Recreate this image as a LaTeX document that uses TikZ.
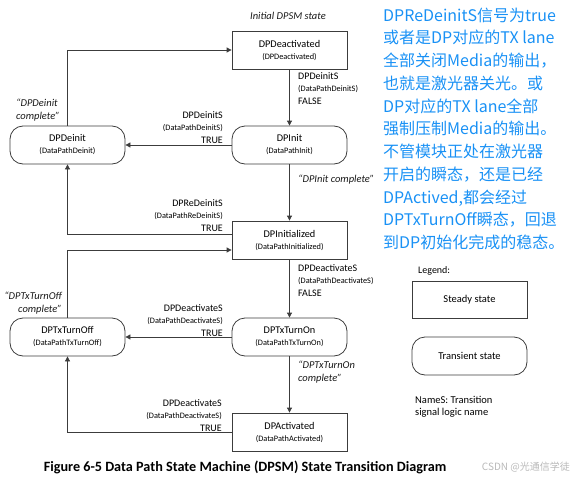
\documentclass[tikz,border=0pt]{standalone}
\usepackage{fontspec}
\setmainfont{Carlito}
\newfontfamily\cjk{Noto Sans CJK SC}
\usetikzlibrary{arrows.meta}
\definecolor{linegray}{RGB}{60,60,60}
\definecolor{noteblue}{RGB}{25,145,245}
\definecolor{wmgray}{RGB}{185,185,185}
\tikzset{
  steadybox/.style={draw=linegray, line width=0.8pt, minimum width=115pt, minimum height=38pt, align=center, inner sep=0pt, font=\fontsize{10.3}{12}\selectfont},
  transbox/.style={steadybox, rounded corners=13pt},
  conn/.style={draw=linegray, line width=0.8pt, -{Triangle[length=5pt,width=5pt]}},
  siglbl/.style={inner sep=0pt, font=\fontsize{10}{12.5}\selectfont},
  cmpl/.style={inner sep=0pt, font=\fontsize{10.5}{13}\selectfont\itshape, text=black!90},
}
\newcommand{\subl}[1]{{\fontsize{8.3}{12.5}\selectfont #1}}
\begin{document}
\begin{tikzpicture}[x=1pt,y=-1pt]
\useasboundingbox (0,0) rectangle (573,479);
% states
\node[steadybox] (deact) at (289.5,50) {DPDeactivated\\\subl{(DPDeactivated)}};
\node[transbox] (init) at (289.5,145) {DPInit\\\subl{(DataPathInit)}};
\node[transbox] (deinit) at (67.5,145) {DPDeinit\\\subl{(DataPathDeinit)}};
\node[steadybox] (initd) at (289.5,240) {DPInitialized\\\subl{(DataPathInitialized)}};
\node[transbox] (txon) at (289.5,337) {DPTxTurnOn\\\subl{(DataPathTxTurnOn)}};
\node[transbox] (txoff) at (67.5,337) {DPTxTurnOff\\\subl{(DataPathTxTurnOff)}};
\node[steadybox] (act) at (289.5,432) {DPActivated\\\subl{(DataPathActivated)}};
% connectors
\draw[conn] (deinit.north) |- (deact.west);
\draw[conn] (deact.south) -- (init.north);
\draw[conn] (init.west) -- (deinit.east);
\draw[conn] (init.south) -- (initd.north);
\draw[conn] ([yshift=6pt]initd.west) -| (deinit.south);
\draw[conn] (txoff.north) |- ([yshift=-10pt]initd.west);
\draw[conn] (initd.south) -- (txon.north);
\draw[conn] (txon.west) -- (txoff.east);
\draw[conn] (txon.south) -- (act.north);
\draw[conn] (act.west) -| (txoff.south);
% transition labels
\node[siglbl, anchor=north west, align=left] (l1) at (298,72) {DPDeinitS\\\subl{(DataPathDeinitS)}\\FALSE};
\node[siglbl, anchor=north east, align=right] (l2) at (223,111) {DPDeinitS\\\subl{(DataPathDeinitS)}\\TRUE};
\node[siglbl, anchor=north east, align=right] (l3) at (223,199) {DPReDeinitS\\\subl{(DataPathReDeinitS)}\\TRUE};
\node[siglbl, anchor=north west, align=left] (l4) at (298,264) {DPDeactivateS\\\subl{(DataPathDeactivateS)}\\FALSE};
\node[siglbl, anchor=north east, align=right] (l5) at (223,304) {DPDeactivateS\\\subl{(DataPathDeactivateS)}\\TRUE};
\node[siglbl, anchor=north east, align=right] (l6) at (222,399) {DPDeactivateS\\\subl{(DataPathDeactivateS)}\\TRUE};
% completion labels
\node[cmpl] (initial) at (288,15.5) {Initial DPSM state};
\node[cmpl, anchor=north west, align=left] (c1) at (16,99) {“DPDeinit\\complete”};
\node[cmpl, anchor=west] (c2) at (298,180) {“DPInit complete”};
\node[cmpl, anchor=north east, align=right] (c3) at (62,292) {“DPTxTurnOff\\complete”};
\node[cmpl, anchor=north west, align=left] (c4) at (298,361) {“DPTxTurnOn\\complete”};
% legend
\node[siglbl, anchor=west] (leg) at (418,271) {Legend:};
\node[steadybox, minimum height=37pt, font=\fontsize{10.5}{12}\selectfont] (lsteady) at (469.5,299.5) {Steady state};
\node[transbox, minimum height=38pt, font=\fontsize{10.5}{12}\selectfont] (ltrans) at (469.5,356) {Transient state};
\node[siglbl, anchor=north west, align=left, font=\fontsize{10.5}{12.5}\selectfont] (lname) at (415,396) {NameS: Transition\\signal logic name};
% caption
\node[inner sep=0pt, font=\fontsize{14.2}{16}\selectfont\bfseries] (cap) at (245,467) {Figure 6-5 Data Path State Machine (DPSM) State Transition Diagram};
\node[inner sep=0pt, anchor=east, text=wmgray, font=\fontsize{10}{12}\cjk] (wm) at (570,467) {CSDN @光通信学徒};
% note
\node[inner sep=0pt, anchor=north west, align=left, text=noteblue, font=\fontsize{16}{22.75}\cjk] (note) at (383,7.5) {DPReDeinitS信号为true\\或者是DP对应的TX lane\\全部关闭Media的输出，\\也就是激光器关光。或\\DP对应的TX lane全部\\强制压制Media的输出。\\不管模块正处在激光器\\开启的瞬态，还是已经\\DPActived,都会经过\\DPTxTurnOff瞬态，回退\\到DP初始化完成的稳态。};
\end{tikzpicture}
\end{document}
